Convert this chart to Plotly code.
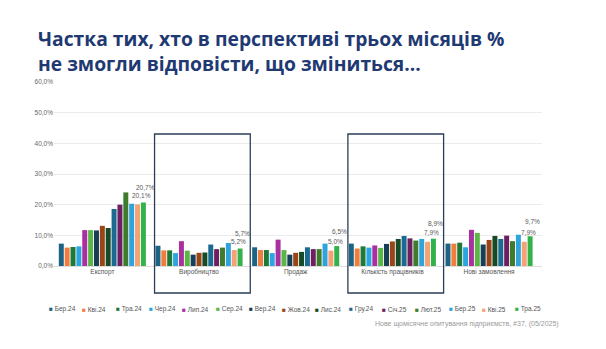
import plotly.graph_objects as go

categories = ["Експорт", "Виробництво", "Продаж", "Кількість працівників", "Нові замовлення"]

months = ["Бер.24", "Кві.24", "Тра.24", "Чер.24", "Лип.24", "Сер.24", "Вер.24", "Жов.24",
          "Лис.24", "Гру.24", "Січ.25", "Лют.25", "Бер.25", "Кві.25", "Тра.25"]

colors = ["#1d6384", "#ef7d3e", "#1f7a3a", "#2ba6df", "#a8319f", "#5cb547", "#173f58", "#9a4516",
          "#174a26", "#1b6a91", "#6d1f62", "#3f7b2c", "#2ea3dc", "#f4a274", "#33b24b"]

# share of respondents (%) per month, order follows `categories`
values = {
    "Бер.24": [7.3, 6.6, 6.1, 7.3, 7.3],
    "Кві.24": [6.0, 5.1, 5.2, 5.7, 7.3],
    "Тра.24": [6.2, 5.1, 5.2, 6.4, 7.6],
    "Чер.24": [6.4, 4.2, 4.2, 6.0, 6.1],
    "Лип.24": [11.7, 8.1, 8.6, 6.7, 11.8],
    "Сер.24": [11.7, 5.0, 5.2, 5.9, 10.8],
    "Вер.24": [11.6, 3.7, 3.7, 7.2, 7.0],
    "Жов.24": [13.1, 4.3, 4.3, 8.0, 8.5],
    "Лис.24": [12.4, 4.4, 4.6, 8.8, 9.8],
    "Гру.24": [18.6, 7.0, 6.1, 9.8, 8.8],
    "Січ.25": [20.0, 5.5, 5.5, 9.0, 9.9],
    "Лют.25": [24.0, 6.0, 5.5, 8.3, 8.1],
    "Бер.25": [20.3, 7.5, 7.3, 8.8, 10.2],
    "Кві.25": [20.1, 5.2, 5.0, 7.9, 7.9],
    "Тра.25": [20.7, 5.7, 6.5, 8.9, 9.7],
}

y_ticks = [0, 10, 20, 30, 40, 50, 60]
labelled_months = ["Кві.25", "Тра.25"]
boxed_categories = ["Виробництво", "Кількість працівників"]

title_lines = ["Частка тих, хто в перспективі трьох місяців %",
               "не змогли відповісти, що зміниться..."]
source_text = "Нове щомісячне опитування підприємств, #37, (05/2025)"

W, H = 606, 349
M_L, M_R, M_T, M_B = 54, 64, 82, 83
plot_w = W - M_L - M_R
plot_h = H - M_T - M_B
cat_px = plot_w / len(categories)
BARGAP = 0.09
slot_px = cat_px * (1 - BARGAP) / len(months)


def fmt(v):
    return f"{v:.1f}".replace(".", ",") + "%"


def px_x(px):
    return (px - M_L) / plot_w


def px_y(py):
    return (H - M_B - py) / plot_h


fig = go.Figure()
for m, c in zip(months, colors):
    fig.add_trace(go.Bar(
        x=categories, y=values[m], name=m,
        marker=dict(color=c, line=dict(width=0)),
        showlegend=False, hoverinfo="x+y+name",
    ))

annotations = []

# two-line bold title
annotations.append(dict(
    x=px_x(36), y=px_y(23), xref="paper", yref="paper",
    xanchor="left", yanchor="top", align="left", showarrow=False,
    text="<b>" + "<br>".join(title_lines) + "</b>",
    font=dict(family="Open Sans", size=19.3, color="#1f3a72"),
))

# value labels over the two latest months
label_font = dict(size=6.5, color="#5a5a5a", family="Liberation Sans")
i_prev = months.index(labelled_months[0])
i_last = months.index(labelled_months[1])
off_prev = (i_prev + 0.5 - len(months) / 2) * slot_px
off_last = (i_last + 0.5 - len(months) / 2) * slot_px
for ci, cat in enumerate(categories):
    v_prev = values[labelled_months[0]][ci]
    v_last = values[labelled_months[1]][ci]
    annotations.append(dict(
        x=cat, y=v_prev, xref="x", yref="y", text=fmt(v_prev), showarrow=False,
        xshift=off_prev + 4, yshift=9, yanchor="middle", xanchor="center",
        font=label_font,
    ))
    shift_last = max(15, (v_prev - v_last) * 3.07 + 17)
    annotations.append(dict(
        x=cat, y=v_last, xref="x", yref="y", text=fmt(v_last), showarrow=False,
        xshift=off_last + 2, yshift=shift_last, yanchor="middle", xanchor="center",
        font=label_font,
    ))

# legend row
leg_x0 = 47
leg_step = 33.3
for i, (m, c) in enumerate(zip(months, colors)):
    annotations.append(dict(
        x=px_x(leg_x0 + leg_step * i), y=px_y(309),
        xref="paper", yref="paper", xanchor="left", yanchor="middle", showarrow=False,
        text=f"<span style='color:{c}'>■</span> {m}",
        font=dict(size=6.5, color="#555555", family="Liberation Sans"),
    ))

# source note
annotations.append(dict(
    x=px_x(561), y=px_y(324),
    xref="paper", yref="paper", xanchor="right", yanchor="middle", showarrow=False,
    text=source_text, font=dict(size=7, color="#9a9a9a", family="Liberation Sans"),
))

shapes = []
for cat in boxed_categories:
    ci = categories.index(cat)
    shapes.append(dict(
        type="rect", xref="x", yref="paper",
        x0=ci - 0.46, x1=ci + 0.53,
        y0=px_y(293), y1=px_y(134),
        line=dict(color="#2b3e57", width=1.3), fillcolor="rgba(0,0,0,0)",
    ))

fig.update_layout(
    width=W, height=H,
    margin=dict(l=M_L, r=M_R, t=M_T, b=M_B),
    paper_bgcolor="white", plot_bgcolor="white",
    barmode="group", bargap=BARGAP, bargroupgap=0.15,
    xaxis=dict(
        showgrid=False, showline=False, ticks="",
        tickfont=dict(size=6.5, color="#555555", family="Liberation Sans"),
    ),
    yaxis=dict(
        range=[0, 60], tickvals=y_ticks, ticktext=[fmt(t) for t in y_ticks],
        showgrid=True, gridcolor="#ebebeb", gridwidth=1,
        zeroline=True, zerolinecolor="#dcdcdc", zerolinewidth=1,
        showline=False, ticks="",
        tickfont=dict(size=6.5, color="#666666", family="Liberation Sans"),
    ),
    annotations=annotations,
    shapes=shapes,
)

fig.write_html("out.html")
